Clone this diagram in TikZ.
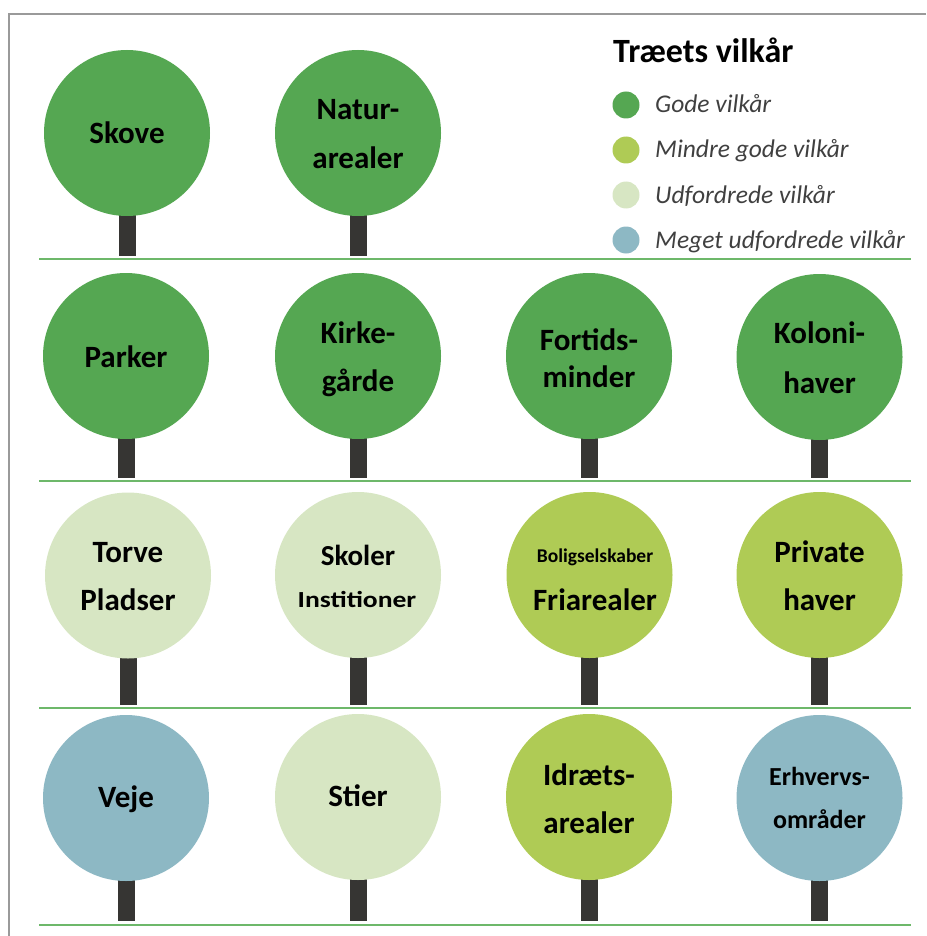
\documentclass[tikz,border=0pt]{standalone}
\usepackage{fontspec}
\setmainfont{Carlito}
\definecolor{cgood}{HTML}{55A752}
\definecolor{cless}{HTML}{AFCB55}
\definecolor{cchal}{HTML}{D7E6C3}
\definecolor{cvery}{HTML}{8DB8C4}
\definecolor{ctrunk}{HTML}{363533}
\definecolor{cdiv}{HTML}{6DB86A}
\definecolor{cframe}{HTML}{9A9A9A}
\definecolor{clegtxt}{HTML}{404040}
\newcommand\mytree[5]{%
  \fill[ctrunk] ({#2-8.5},#3) rectangle ({#2+8.5},#4);
  \node[crown, fill=#5] (#1) at (#2,#3) {};}
\begin{document}
\begin{tikzpicture}[x=1pt,y=-1pt,
  crown/.style={circle, minimum size=166pt, inner sep=0pt, draw=none},
  lbl/.style={anchor=base, inner sep=0pt, text=black, font=\bfseries\fontsize{31}{31}\selectfont},
  lblm/.style={anchor=base, inner sep=0pt, text=black, font=\bfseries\fontsize{26}{26}\selectfont},
  lbls/.style={anchor=base, inner sep=0pt, text=black, font=\bfseries\fontsize{19.5}{19.5}\selectfont},
  legdot/.style={circle, minimum size=27pt, inner sep=0pt, draw=none},
  legtxt/.style={anchor=base west, inner sep=0pt, text=clegtxt, font=\itshape\fontsize{25.5}{25.5}\selectfont},
  divline/.style={draw=cdiv, line width=1.5pt},
  frameline/.style={draw=cframe, line width=1.2pt}]
\useasboundingbox (0,0) rectangle (926,936);
% frame
\draw[frameline] (926,14) -- (9,14) -- (9,936);
% dividers
\draw[divline] (39,259) -- (911,259);
\draw[divline] (39,481) -- (911,481);
\draw[divline] (39,708) -- (911,708);
\draw[divline] (39,925) -- (911,925);
% row 1
\mytree{skove}{127}{133}{256}{cgood}
\mytree{natur}{358}{133}{256}{cgood}
\node[lbl] (skove-a) at (127,144) {Skove};
\node[lbl] (natur-a) at (358,120) {Natur-};
\node[lbl] (natur-b) at (358,168) {arealer};
% row 2
\mytree{parker}{126}{356}{478}{cgood}
\mytree{kirke}{358}{356}{478}{cgood}
\mytree{fortid}{589}{356}{478}{cgood}
\mytree{koloni}{819.5}{357}{478}{cgood}
\node[lbl] (parker-a) at (126,367) {Parker};
\node[lbl] (kirke-a) at (358,343) {Kirke-};
\node[lbl] (kirke-b) at (358,391) {gårde};
\node[lbl] (fortid-a) at (589,350) {Fortids-};
\node[lbl] (fortid-b) at (589,387) {minder};
\node[lbl] (koloni-a) at (819.5,343) {Koloni-};
\node[lbl] (koloni-b) at (819.5,393) {haver};
% row 3
\mytree{torve}{128}{575.5}{705}{cchal}
\mytree{skoler}{358}{575}{705}{cchal}
\mytree{fri}{589.5}{575}{705}{cless}
\mytree{privat}{819.5}{575}{705}{cless}
\node[lbl] (torve-a) at (128,562) {Torve};
\node[lbl] (torve-b) at (128,610) {Pladser};
\node[lbl, font=\bfseries\fontsize{29}{29}\selectfont] (skoler-a) at (358,565) {Skoler};
\node[lbl, font=\bfseries\fontsize{23}{23}\selectfont, xscale=1.2] (skoler-b) at (357,607) {Institioner};
\node[lbls] (fri-a) at (595,562) {Boligselskaber};
\node[lbl] (fri-b) at (595,610) {Friarealer};
\node[lbl] (privat-a) at (819.5,562) {Private};
\node[lbl] (privat-b) at (819.5,610) {haver};
% row 4
\mytree{veje}{126}{798}{921}{cvery}
\mytree{stier}{358}{797}{921}{cchal}
\mytree{idraet}{589}{797}{921}{cless}
\mytree{erhverv}{819.5}{798}{921}{cvery}
\node[lbl] (veje-a) at (126,807) {Veje};
\node[lbl] (stier-a) at (358,806) {Stier};
\node[lbl] (idraet-a) at (589,785) {Idræts-};
\node[lbl] (idraet-b) at (589,833) {arealer};
\node[lblm] (erhverv-a) at (819.5,785) {Erhvervs-};
\node[lblm] (erhverv-b) at (819.5,828) {områder};
% legend
\node[anchor=base west, inner sep=0pt, text=black, font=\bfseries\fontsize{34}{34}\selectfont] (legtitle) at (613,63) {Træets vilkår};
\node[legdot, fill=cgood] (leg1) at (626,105) {};
\node[legdot, fill=cless] (leg2) at (626,150) {};
\node[legdot, fill=cchal] (leg3) at (626,195) {};
\node[legdot, fill=cvery] (leg4) at (626,240) {};
\node[legtxt] (leg1t) at (655,113) {Gode vilkår};
\node[legtxt] (leg2t) at (655,158) {Mindre gode vilkår};
\node[legtxt] (leg3t) at (655,203) {Udfordrede vilkår};
\node[legtxt] (leg4t) at (655,248) {Meget udfordrede vilkår};
\end{tikzpicture}
\end{document}
